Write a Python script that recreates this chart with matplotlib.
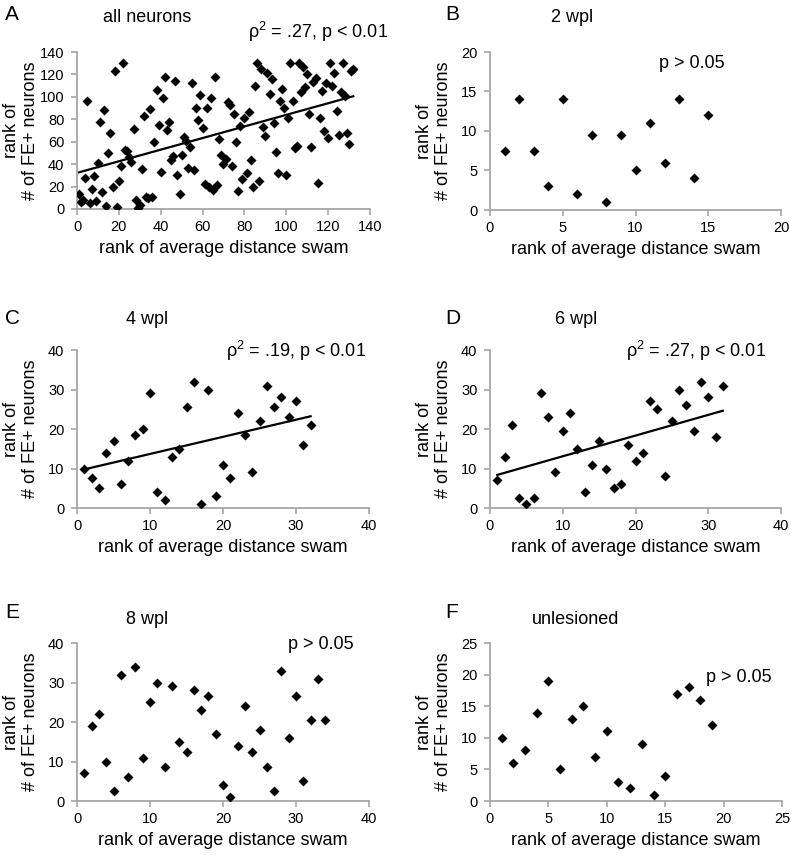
import numpy as np
import matplotlib.pyplot as plt

plt.rcParams['font.family'] = ['Liberation Sans', 'DejaVu Sans']
plt.rcParams['mathtext.fontset'] = 'custom'
plt.rcParams['mathtext.rm'] = 'Liberation Sans'
plt.rcParams['mathtext.default'] = 'regular'

W, H = 791, 855

#### data (rank vs rank)
all_x = [1, 2, 3, 4, 5, 6, 7, 8, 9, 10, 11, 12, 13, 14, 15, 16, 17, 18, 19, 20,
         21, 22, 23, 24, 25, 26, 27, 28, 29, 30, 31, 32, 33, 34, 35, 36, 37, 38, 39, 40,
         41, 42, 43, 44, 45, 46, 47, 48, 49, 50, 51, 52, 53, 54, 55, 56, 57, 58, 59, 60,
         61, 62, 63, 64, 65, 66, 67, 68, 69, 70, 71, 72, 73, 74, 75, 76, 77, 78, 79, 80,
         81, 82, 83, 84, 85, 86, 87, 88, 89, 90, 91, 92, 93, 94, 95, 96, 97, 98, 99, 100,
         101, 102, 103, 104, 105, 106, 107, 108, 109, 110, 111, 112, 113, 114, 115, 116,
         117, 118, 119, 120, 121, 122, 123, 124, 125, 126, 127, 128, 129, 130, 131, 132]
all_y = [13, 6, 8, 27.5, 96, 5, 18, 29, 7, 41,
         78, 15, 88, 3, 50, 67.5, 20, 123, 2, 25,
         38, 130, 53, 52, 46, 42, 71, 8, 1, 4,
         36, 83, 11, 10, 89, 11, 60, 106.5, 75, 33,
         99, 118, 70, 78, 44, 47, 114, 30.5, 13.5, 48,
         64.5, 61, 37, 55, 112, 35, 90.5, 79, 102, 72.5,
         22.5, 90.5, 20, 99, 16.5, 118, 21.5, 62.5, 48, 40,
         45, 95.5, 92.5, 38.5, 84.5, 60, 16, 74, 26.5, 81.5,
         32.5, 86.5, 44, 20, 109.5, 130, 25, 125, 73, 65,
         121, 102.5, 116, 76.5, 51, 32.5, 96, 107, 90.5, 30.5,
         81, 130, 96, 54, 56, 130, 104.5, 127, 109, 120,
         84.5, 55.5, 113, 117, 23.5, 81, 105, 69.5, 112, 63,
         130, 110, 121, 87.5, 66, 104.5, 130, 100.5, 68, 58,
         123.5, 125]

wpl2_x = [1, 2, 3, 4, 5, 6, 7, 8, 9, 10, 11, 12, 13, 14, 15]
wpl2_y = [7.5, 14, 7.5, 3, 14, 2, 9.5, 1, 9.5, 5, 11, 6, 14, 4, 12]

wpl4_x = [1, 2, 3, 4, 5, 6, 7, 8, 9, 10, 11, 12, 13, 14, 15, 16,
          17, 18, 19, 20, 21, 22, 23, 24, 25, 26, 27, 28, 29, 30, 31, 32]
wpl4_y = [10, 7.5, 5, 14, 17, 6, 12, 18.5, 20, 29, 4, 2, 13, 15, 25.5, 32,
          1, 30, 3, 11, 7.5, 24, 18.5, 9, 22, 31, 25.5, 28, 23, 27, 16, 21]

wpl6_x = [1, 2, 3, 4, 5, 6, 7, 8, 9, 10, 11, 12, 13, 14, 15, 16,
          17, 18, 19, 20, 21, 22, 23, 24, 25, 26, 27, 28, 29, 30, 31, 32]
wpl6_y = [7, 13, 21, 2.5, 1, 2.5, 29, 23, 9, 19.5, 24, 15, 4, 11, 17, 10,
          5, 6, 16, 12, 14, 27, 25, 8, 22, 30, 26, 19.5, 32, 28, 18, 31]

wpl8_x = [1, 2, 3, 4, 5, 6, 7, 8, 9, 10, 11, 12, 13, 14, 15, 16, 17,
          18, 19, 20, 21, 22, 23, 24, 25, 26, 27, 28, 29, 30, 31, 32, 33, 34]
wpl8_y = [7, 19, 22, 10, 2.5, 32, 6, 34, 11, 25, 30, 8.5, 29, 15, 12.5, 28, 23,
          26.5, 17, 4, 1, 14, 24, 12.5, 18, 8.5, 2.5, 33, 16, 26.5, 5, 20.5, 31, 20.5]

unles_x = [1, 2, 3, 4, 5, 6, 7, 8, 9, 10, 11, 12, 13, 14, 15, 16, 17, 18, 19]
unles_y = [10, 6, 8, 14, 19, 5, 13, 15, 7, 11, 3, 2, 9, 1, 4, 17, 18, 16, 12]

def fpos(x, y):
    return x / W, 1 - y / H

fig = plt.figure(figsize=(W / 100, H / 100), dpi=100)

####one panel
def panel(box, x, y, xmax, ymax, step, letter, letter_xy, title, title_xy,
          note, note_xy, trend):
    l, t, r, b = box
    ax = fig.add_axes([l / W, 1 - b / H, (r - l) / W, (b - t) / H])
    ax.scatter(x, y, marker='D', s=26, color='black', zorder=3, linewidths=0)
    if trend:
        k, c = np.polyfit(x, y, 1)
        xs = np.array([min(x), max(x)])
        ax.plot(xs, k * xs + c, color='black', lw=1.6)
    ax.set_xlim(0, xmax)
    ax.set_ylim(0, ymax)
    ax.set_xticks(np.arange(0, xmax + 0.1, step[0]))
    ax.set_yticks(np.arange(0, ymax + 0.1, step[1]))
    for s in ['top', 'right']:
        ax.spines[s].set_visible(False)
    for s in ['left', 'bottom']:
        ax.spines[s].set_color('#a6a6a6')
        ax.spines[s].set_linewidth(1.3)
    ax.tick_params(colors='#a6a6a6', labelcolor='black', labelsize=10.5,
                   length=4, width=1.2)
    ax.tick_params(axis='x', pad=4)
    ax.tick_params(axis='y', pad=5)
    ax.set_xlabel('rank of average distance swam', fontsize=13, labelpad=4)
    ax.text(-56 / (r - l), 0.5, 'rank of\n# of FE+ neurons', transform=ax.transAxes,
            rotation=90, ha='center', va='center', fontsize=13, multialignment='center')
    fig.text(*fpos(*letter_xy), letter, fontsize=15, ha='left', va='center')
    fig.text(*fpos(*title_xy), title, fontsize=13, ha='center', va='center')
    fig.text(*fpos(*note_xy), note, fontsize=13, ha='left', va='center')
    ax.patch.set_alpha(0)
    return ax

panel((77, 52, 370, 209), all_x, all_y, 140, 140, (20, 20), 'A', (5, 15),
      'all neurons', (147, 18), 'ρ$^2$ = .27, p < 0.01', (248, 32), True)
panel((490, 52, 781, 210), wpl2_x, wpl2_y, 20, 20, (5, 5), 'B', (445, 15),
      '2 wpl', (572, 18), 'p > 0.05', (659, 63), False)
panel((77, 350, 369, 508), wpl4_x, wpl4_y, 40, 40, (10, 10), 'C', (5, 318),
      '4 wpl', (147, 319), 'ρ$^2$ = .19, p < 0.01', (226, 351), True)
panel((490, 350, 781, 508), wpl6_x, wpl6_y, 40, 40, (10, 10), 'D', (445, 318),
      '6 wpl', (576, 319), 'ρ$^2$ = .27, p < 0.01', (626, 351), True)
panel((77, 643, 369, 801), wpl8_x, wpl8_y, 40, 40, (10, 10), 'E', (5, 612),
      '8 wpl', (147, 620), 'p > 0.05', (288, 644), False)
panel((490, 643, 782, 801), unles_x, unles_y, 25, 25, (5, 5), 'F', (445, 612),
      'unlesioned', (576, 619), 'p > 0.05', (706, 677), False)

fig.savefig('out.png', dpi=100)
